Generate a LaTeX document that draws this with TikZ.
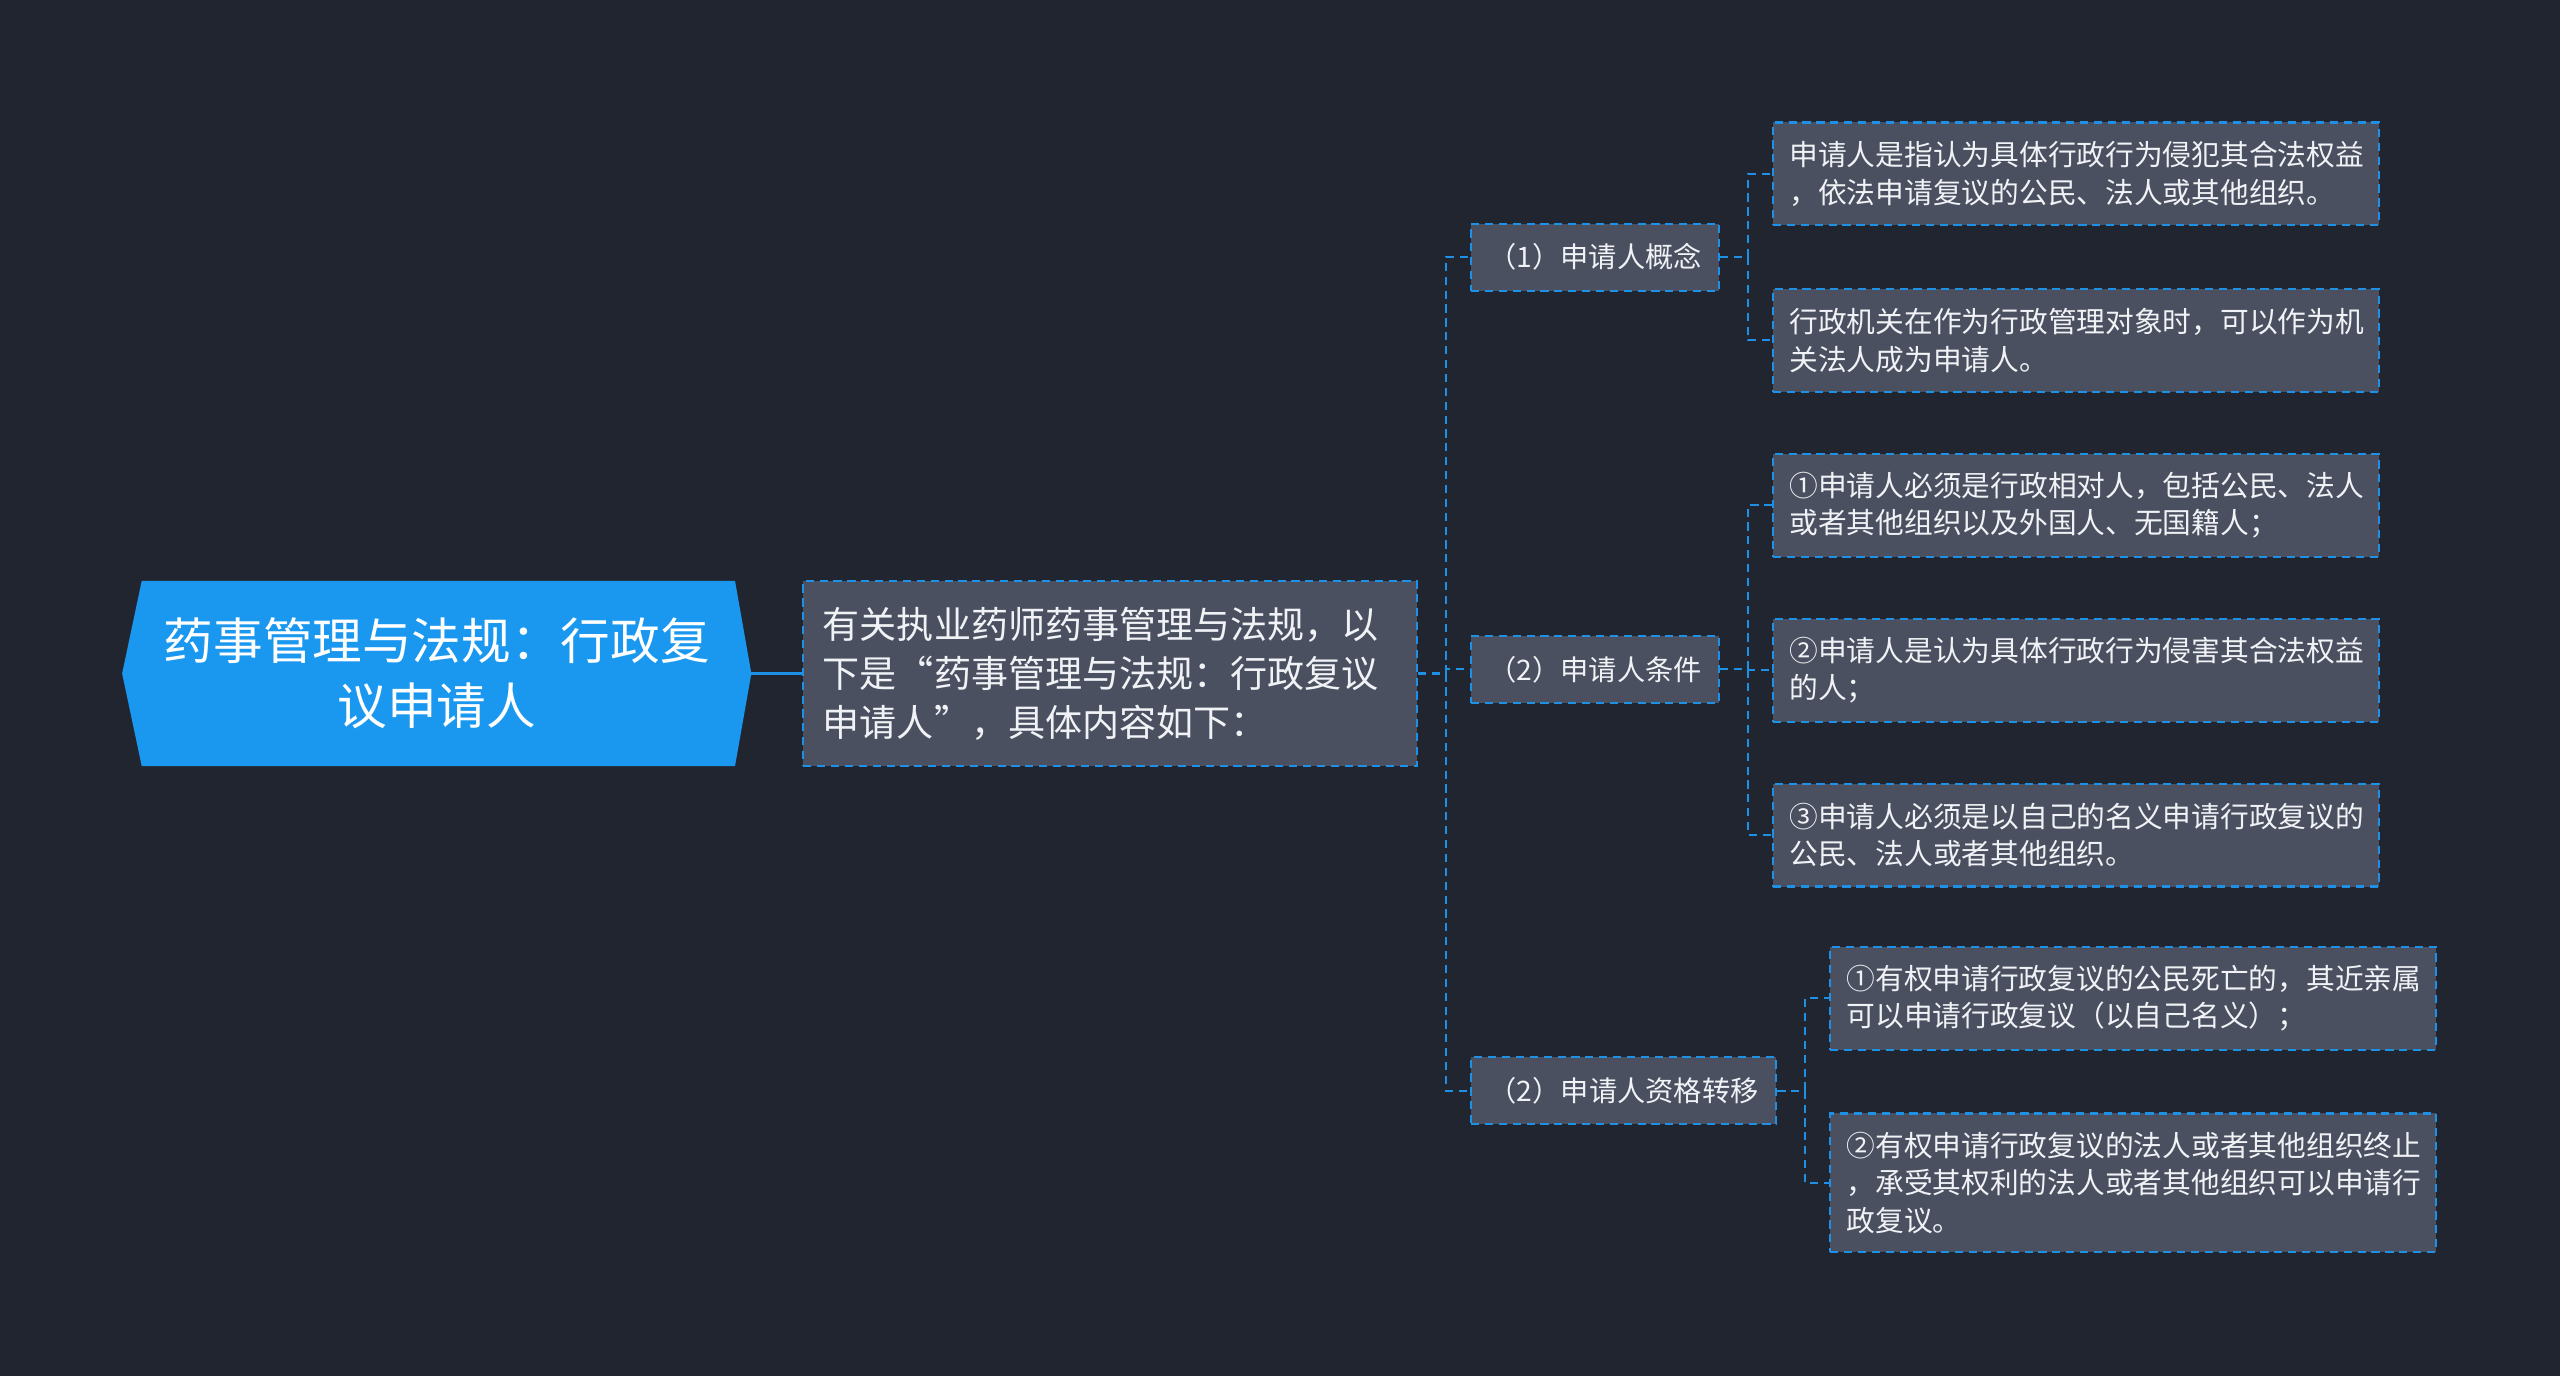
\documentclass[tikz,border=0pt]{standalone}
\usepackage{fontspec}
\setmainfont{Noto Sans CJK SC}
\usetikzlibrary{calc}
\definecolor{bgc}{RGB}{33,37,48}
\definecolor{boxc}{RGB}{74,80,96}
\definecolor{linec}{RGB}{30,144,230}
\definecolor{rootc}{RGB}{26,152,240}
\definecolor{txtc}{RGB}{240,242,246}
\tikzset{
  conn/.style={draw=linec, line width=1.3pt, dash pattern=on 5pt off 3.5pt},
  boxbase/.style={draw=linec, line width=1.3pt, dash pattern=on 5pt off 3.5pt, fill=boxc, text=txtc, inner sep=0pt},
  leaf/.style={boxbase, minimum width=371pt, text width=351pt, align=left, font=\fontsize{17.6}{23}\selectfont},
  midbox/.style={boxbase, minimum height=41pt, align=center, font=\fontsize{17.3}{21}\selectfont},
  introbox/.style={boxbase, minimum width=376pt, minimum height=113pt, text width=352pt, align=left, font=\fontsize{22.7}{30}\selectfont},
  rootbox/.style={inner sep=0pt, minimum width=385pt, minimum height=113pt, text=white, align=center, font=\fontsize{30.4}{40}\selectfont}
}
\begin{document}
\begin{tikzpicture}[x=1pt,y=-1pt]
\useasboundingbox (0,0) rectangle (1568,843);
\fill[bgc] (0,0) rectangle (1568,843);
% root
\node[rootbox] (root) at (267.5,412.5) {药事管理与法规：行政复\\议申请人};
\fill[rootc] ($(root.north west)+(12,0)$) -- ($(root.north east)+(-10,0)$) -- (root.east) -- ($(root.south east)+(-10,0)$) -- ($(root.south west)+(12,0)$) -- (root.west) -- cycle;
\node[rootbox] (roott) at (267.5,412.5) {药事管理与法规：行政复\\议申请人};
% intro
\node[introbox] (intro) at (680,412.5) {有关执业药师药事管理与法规，以\\下是“药事管理与法规：行政复议\\申请人”，具体内容如下：};
% level 2
\node[midbox, minimum width=152pt] (c1) at (977,157.5) {（1）申请人概念};
\node[midbox, minimum width=152pt] (c2) at (977,410) {（2）申请人条件};
\node[midbox, minimum width=187pt] (c3) at (994.5,668) {（2）申请人资格转移};
% leaves
\node[leaf, minimum height=63pt] (a1) at (1271.5,106.5) {申请人是指认为具体行政行为侵犯其合法权益\\，依法申请复议的公民、法人或其他组织。};
\node[leaf, minimum height=63pt] (a2) at (1271.5,208.5) {行政机关在作为行政管理对象时，可以作为机\\关法人成为申请人。};
\node[leaf, minimum height=63pt] (b1) at (1271.5,309.5) {①申请人必须是行政相对人，包括公民、法人\\或者其他组织以及外国人、无国籍人；};
\node[leaf, minimum height=63pt] (b2) at (1271.5,410.5) {②申请人是认为具体行政行为侵害其合法权益\\的人；};
\node[leaf, minimum height=63pt] (b3) at (1271.5,511.5) {③申请人必须是以自己的名义申请行政复议的\\公民、法人或者其他组织。};
\node[leaf, minimum height=63pt] (d1) at (1306.5,611.5) {①有权申请行政复议的公民死亡的，其近亲属\\可以申请行政复议（以自己名义）；};
\node[leaf, minimum height=85pt] (d2) at (1306.5,724.5) {②有权申请行政复议的法人或者其他组织终止\\，承受其权利的法人或者其他组织可以申请行\\政复议。};
% connectors
\draw[linec, line width=1.6pt] (roott.east) -- (intro.west);
\draw[conn] (intro.east) -- ++(17,0) |- (c1.west);
\draw[conn] (intro.east) -- ++(17,0) |- (c2.west);
\draw[conn] (intro.east) -- ++(17,0) |- (c3.west);
\draw[conn] (c1.east) -- ++(17,0) |- (a1.west);
\draw[conn] (c1.east) -- ++(17,0) |- (a2.west);
\draw[conn] (c2.east) -- ++(17,0) |- (b1.west);
\draw[conn] (c2.east) -- ++(17,0) |- (b2.west);
\draw[conn] (c2.east) -- ++(17,0) |- (b3.west);
\draw[conn] (c3.east) -- ++(17,0) |- (d1.west);
\draw[conn] (c3.east) -- ++(17,0) |- (d2.west);
\end{tikzpicture}
\end{document}
